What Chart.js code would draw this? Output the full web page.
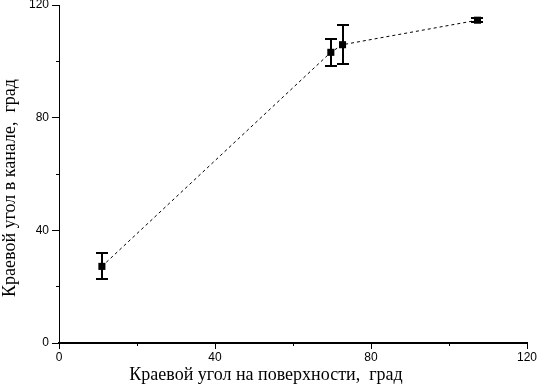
<!DOCTYPE html>
<html>
<head>
<meta charset="utf-8">
<script src="https://cdn.jsdelivr.net/npm/chart.js@4/dist/chart.umd.min.js"></script>
<style>
html,body{margin:0;padding:0;background:#fff;}
#wrap{width:539px;height:384px;position:relative;}
</style>
</head>
<body>
<div id="wrap"><canvas id="c" width="539" height="384"></canvas></div>
<script>
const surfaceAngle = [11.0, 69.7, 72.7, 107.3];
const channelAngle = [27.2, 103.2, 105.9, 114.6];
const channelError = [4.6, 4.9, 6.9, 0.7];
const majorTicks = [0, 40, 80, 120];
const xTitle = 'Краевой угол на поверхности,  град';
const yTitle = 'Краевой угол в канале,  град';

const points = surfaceAngle.map((x, i) => ({x: x, y: channelAngle[i]}));

const errorBars = {
  id: 'errorBars',
  afterDatasetsDraw(chart) {
    const ctx = chart.ctx;
    const xs = chart.scales.x, ys = chart.scales.y;
    ctx.save();
    ctx.strokeStyle = '#000';
    ctx.lineWidth = 2;
    points.forEach((p, i) => {
      const px = Math.round(xs.getPixelForValue(p.x));
      const top = Math.round(ys.getPixelForValue(p.y + channelError[i]));
      const bot = Math.round(ys.getPixelForValue(p.y - channelError[i]));
      ctx.beginPath();
      ctx.moveTo(px, top); ctx.lineTo(px, bot);
      ctx.moveTo(px - 6, top); ctx.lineTo(px + 6, top);
      ctx.moveTo(px - 6, bot); ctx.lineTo(px + 6, bot);
      ctx.stroke();
    });
    ctx.restore();
  }
};

const titles = {
  id: 'titles',
  afterDraw(chart) {
    const ctx = chart.ctx;
    ctx.save();
    ctx.fillStyle = '#000';
    ctx.font = '18px "Liberation Serif", "Times New Roman", serif';
    ctx.textAlign = 'center';
    ctx.textBaseline = 'middle';
    ctx.fillText(xTitle, 266, 375);
    ctx.translate(10, 188);
    ctx.rotate(-Math.PI / 2);
    ctx.fillText(yTitle, 0, 0);
    ctx.restore();
  }
};

const tickFont = {family: '"Liberation Sans", Arial, sans-serif', size: 12};

function fixW(w) { return s => { s.width = w; s.paddingTop = 0; s.paddingBottom = 0; }; }
function fixH(h) { return s => { s.height = h; s.paddingLeft = 0; s.paddingRight = 0; }; }

new Chart(document.getElementById('c'), {
  type: 'scatter',
  data: {
    datasets: [{
      data: points,
      showLine: true,
      borderColor: '#000',
      borderWidth: 1,
      borderDash: [3, 3],
      backgroundColor: '#000',
      pointStyle: 'rect',
      pointRadius: 5,
      pointBorderWidth: 0,
      pointBackgroundColor: '#000'
    }]
  },
  options: {
    responsive: false,
    animation: false,
    events: [],
    layout: {padding: {left: 0, right: 12, top: 5, bottom: 0}},
    plugins: {legend: {display: false}, tooltip: {enabled: false}},
    scales: {
      x: {
        type: 'linear', position: 'bottom', min: 0, max: 120, weight: 1,
        border: {display: true, color: '#000', width: 2},
        grid: {drawOnChartArea: false, drawTicks: true, tickLength: 6, color: '#000', tickWidth: 1},
        ticks: {stepSize: 40, color: '#000', font: tickFont, padding: 1, maxRotation: 0,
                callback: v => majorTicks.includes(v) ? String(v) : ''},
        afterFit: fixH(41)
      },
      x2: {
        type: 'linear', position: 'bottom', min: 0, max: 120, weight: 0,
        border: {display: false},
        grid: {drawOnChartArea: false, drawTicks: true, tickLength: 3, color: '#000', tickWidth: 1},
        ticks: {stepSize: 20, display: true, callback: () => '', font: {size: 1}, padding: 0},
        afterFit: fixH(0)
      },
      y: {
        type: 'linear', position: 'left', min: 0, max: 120, weight: 1,
        border: {display: true, color: '#000', width: 1},
        grid: {drawOnChartArea: false, drawTicks: true, tickLength: 7, color: '#000', tickWidth: 1},
        ticks: {stepSize: 40, color: '#000', font: tickFont, padding: 3,
                callback: v => majorTicks.includes(v) ? String(v) : ''},
        afterFit: fixW(59)
      },
      y2: {
        type: 'linear', position: 'left', min: 0, max: 120, weight: 0,
        border: {display: false},
        grid: {drawOnChartArea: false, drawTicks: true, tickLength: 3, color: '#000', tickWidth: 1},
        ticks: {stepSize: 20, display: true, callback: () => '', font: {size: 1}, padding: 0},
        afterFit: fixW(0)
      }
    }
  },
  plugins: [errorBars, titles]
});
</script>
</body>
</html>
